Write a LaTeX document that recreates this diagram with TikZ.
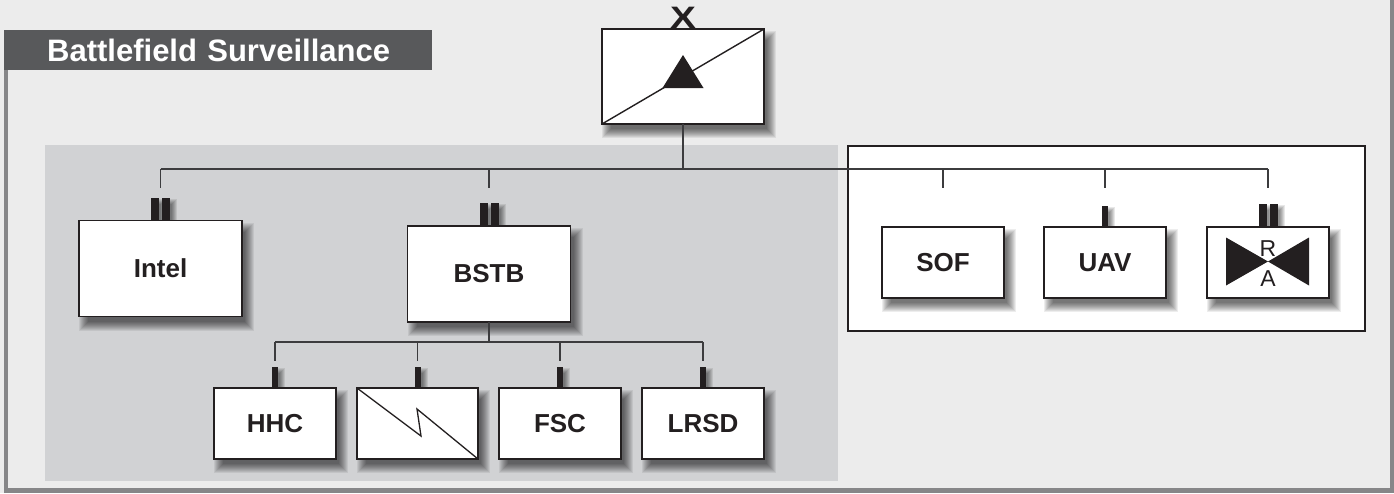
\documentclass[tikz,border=0pt]{standalone}
\usepackage{fontspec}
\setmainfont{Liberation Sans}

\definecolor{paper}{RGB}{236,236,236}
\definecolor{panel}{RGB}{209,210,212}
\definecolor{banner}{RGB}{88,89,91}
\definecolor{rim}{RGB}{134,134,136}
\definecolor{ink}{RGB}{35,31,32}
\definecolor{wire}{RGB}{60,60,62}

\tikzset{
  slot/.style={inner sep=0pt, outer sep=0pt, minimum width=122pt, minimum height=71pt},
  bigslot/.style={slot, minimum width=163pt, minimum height=96pt},
  unitbox/.style={draw=ink, line width=1.6pt, fill=white, text=ink,
      font=\fontsize{26}{30}\selectfont\bfseries},
  tie/.style={draw=wire, line width=1.4pt},
}

% soft drop shadow behind a unit frame
\newcommand\softshadow[1]{%
  \foreach \e in {0,...,9}{%
    \fill[black, fill opacity=0.07]
      ([shift={(9-\e,11-\e)}]#1.north west) rectangle ([shift={(3+\e,5+\e)}]#1.south east);}}

% one bar of an echelon mark: node, left and right offset, height
\newcommand\barpiece[4]{%
  \foreach \e in {0,...,5}{%
    \fill[black, fill opacity=0.09]
      ([shift={(#2+5-\e,-#4+6-\e)}]#1.north) rectangle ([shift={(#3+2+\e,3+\e)}]#1.north);}
  \fill[ink] ([shift={(#2,-#4)}]#1.north) rectangle ([shift={(#3,0)}]#1.north);}
\newcommand\onebar[1]{\barpiece{#1}{-3}{3}{21}}
\newcommand\twobars[1]{\barpiece{#1}{-9.5}{-1.5}{23}\barpiece{#1}{1.5}{9.5}{23}}

\begin{document}
\begin{tikzpicture}[x=1pt, y=-1pt]
\useasboundingbox (0,0) rectangle (1394,493);

% ---- paper, panels and frame
\fill[paper] (0,0) rectangle (1394,493);
\fill[panel] (45,145) rectangle (838,481);
\filldraw[fill=white, draw=ink, line width=1.2pt] (848,146) rectangle (1365,331);
\fill[rim] (4,70) rectangle (8,493);
\fill[rim] (4,488) rectangle (1394,493);
\fill[rim] (1390,0) rectangle (1394,493);

% ---- title banner
\node (title) [fill=banner, text=white, anchor=north west, inner sep=0pt,
  text width=428pt, minimum height=40pt, align=left,
  font=\fontsize{31}{32}\selectfont\bfseries] at (4,30)
  {\hspace*{43pt}Battlefield Surveillance};

% ---- unit frames (positions)
\node (bde)   [slot, minimum width=162pt, minimum height=95pt] at (683,76.5) {};
\node (intel) [bigslot] at (160.5,268.5) {};
\node (bstb)  [bigslot] at (489,274) {};
\node (hhc)   [slot] at (275,423.5) {};
\node (sig)   [slot, minimum width=121pt] at (417.5,423.5) {};
\node (fsc)   [slot] at (560,423.5) {};
\node (lrsd)  [slot] at (703,423.5) {};
\node (sof)   [slot] at (943,262.5) {};
\node (uav)   [slot] at (1105,262.5) {};
\node (ra)    [slot] at (1268,262.5) {};

% ---- shadows and echelon marks
\foreach \u in {bde,intel,bstb,hhc,sig,fsc,lrsd,sof,uav,ra}
  {\softshadow{\u}}
\twobars{intel}
\twobars{bstb}
\twobars{ra}
\onebar{uav}
\onebar{hhc}
\onebar{sig}
\onebar{fsc}
\onebar{lrsd}

% ---- unit boxes
\node (bdebox)   [slot, unitbox, minimum width=162pt, minimum height=95pt] at (bde) {};
\node (intelbox) [bigslot, unitbox] at (intel) {Intel};
\node (bstbbox)  [bigslot, unitbox] at (bstb) {BSTB};
\node (hhcbox)   [slot, unitbox] at (hhc) {HHC};
\node (sigbox)   [slot, unitbox, minimum width=121pt] at (sig) {};
\node (fscbox)   [slot, unitbox] at (fsc) {FSC};
\node (lrsdbox)  [slot, unitbox] at (lrsd) {LRSD};
\node (sofbox)   [slot, unitbox] at (sof) {SOF};
\node (uavbox)   [slot, unitbox] at (uav) {UAV};
\node (rabox)    [slot, unitbox] at (ra) {};

% brigade size mark
\node (size) [anchor=base, inner sep=0pt, text=ink,
  font=\fontsize{31}{31}\selectfont\bfseries] at (683,28) {\scalebox{1.25}[1]{X}};

% ---- unit symbols
\draw[draw=ink, line width=1.4pt] (bde.south west) -- (bde.north east);
\fill[ink, shift={(bde.center)}] (0,-21.5) -- (20.5,11.5) -- (-20.5,11.5) -- cycle;

\draw[draw=ink, line width=1.3pt] (sig.north west)
  -- ([shift={(3.5,12.5)}]sig.center)
  -- ([shift={(-0.5,-14.5)}]sig.center)
  -- (sig.south east);

\fill[ink, shift={(ra.center)}] (-42,-25) -- (0,-1) -- (-42,23) -- cycle;
\fill[ink, shift={(ra.center)}] (41,-25) -- (0,-1) -- (41,23) -- cycle;
\node (raR) [inner sep=0pt, text=ink, font=\fontsize{23}{23}\selectfont]
  at ([yshift=14pt]ra.center) {R};
\node (raA) [inner sep=0pt, text=ink, font=\fontsize{23}{23}\selectfont]
  at ([yshift=-16.5pt]ra.center) {A};

% ---- command lines
\coordinate (bus) at (683,169);
\draw[tie] (bde.south) -- (bus);
\draw[tie] (intel.north |- bus) -- (ra.north |- bus);
\foreach \u in {intel,bstb,sof,uav,ra}
  \draw[tie] (\u.north |- bus) -- ++(0,19);

\coordinate (bus2) at (489,342);
\draw[tie] (bstb.south) -- (bus2);
\draw[tie] (hhc.north |- bus2) -- (lrsd.north |- bus2);
\foreach \u in {hhc,sig,fsc,lrsd}
  \draw[tie] (\u.north |- bus2) -- ++(0,19);
\end{tikzpicture}
\end{document}
